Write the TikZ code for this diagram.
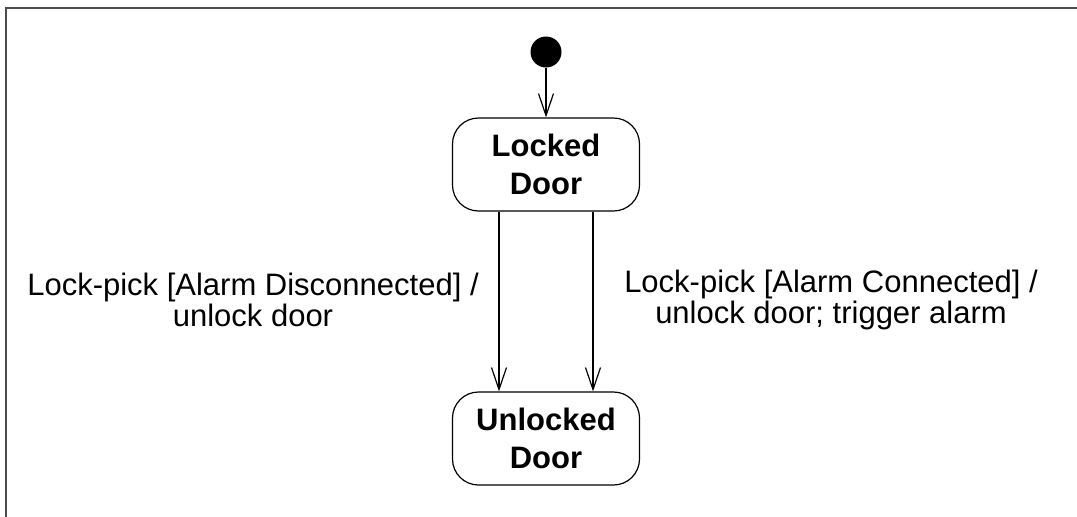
\documentclass[tikz,border=0pt]{standalone}
\usepackage{fontspec}
\setmainfont{Liberation Sans}
\usetikzlibrary{arrows.meta}
\begin{document}
\begin{tikzpicture}[x=1pt,y=-1pt,
  state/.style={draw=black, line width=1.2pt, rounded corners=26pt, minimum width=187pt, minimum height=93pt, align=center, font=\fontsize{31}{38}\selectfont\bfseries, inner sep=0pt},
  tr/.style={draw=black, line width=1.2pt, -{Straight Barb[length=22pt,width=15pt,line width=1.2pt]}},
  lbl/.style={align=center, font=\fontsize{31}{31.5}\selectfont, inner sep=0pt},
  frameline/.style={draw=black!70, line width=2pt}]
\useasboundingbox (0,0) rectangle (1077,517);
\coordinate (ftr) at (1077,8);
\coordinate (ftl) at (6,8);
\coordinate (fbl) at (6,517);
\draw[frameline] (ftr) -- (ftl) -- (fbl);
\node[circle, fill=black, minimum size=31pt, inner sep=0pt] (init) at (546,52) {};
\node[state] (locked) at (546,164.5) {Locked\\Door};
\node[state] (unlocked) at (546,438.5) {Unlocked\\Door};
\draw[tr] (init) -- (locked.north);
\draw[tr] ([xshift=-47pt]locked.south) -- ([xshift=-47pt]unlocked.north);
\draw[tr] ([xshift=47pt]locked.south) -- ([xshift=47pt]unlocked.north);
\node[lbl] (l1) at (253,300) {Lock-pick [Alarm Disconnected] /\\unlock door};
\node[lbl] (l2) at (831,300) {Lock-pick [Alarm Connected] /\\unlock door; trigger alarm};
\end{tikzpicture}
\end{document}
